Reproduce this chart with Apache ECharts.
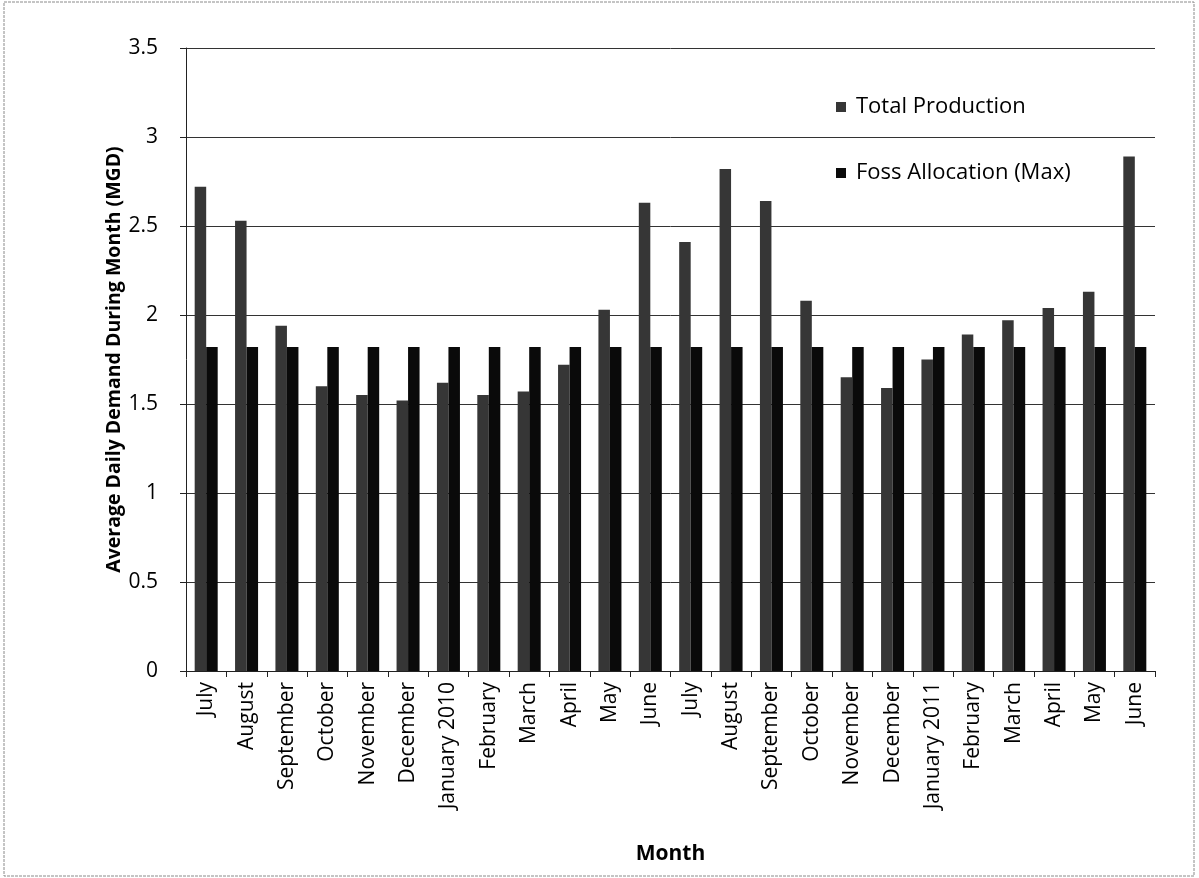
<!DOCTYPE html>
<html>
<head>
<meta charset="utf-8">
<script src="https://cdn.jsdelivr.net/npm/echarts@6/dist/echarts.min.js"></script>
<style>
  html, body { margin: 0; padding: 0; background: #fff; }
  #chart { width: 1199px; height: 878px; }
</style>
</head>
<body>
<div id="chart"></div>
<script>
// Monthly average daily demand, July 2009 – June 2011
const months = [
  'July', 'August', 'September', 'October', 'November', 'December',
  'January 2010', 'February', 'March', 'April', 'May', 'June',
  'July', 'August', 'September', 'October', 'November', 'December',
  'January 2011', 'February', 'March', 'April', 'May', 'June'
];
const totalProduction = [
  2.72, 2.53, 1.94, 1.60, 1.55, 1.52, 1.62, 1.55, 1.57, 1.72, 2.03, 2.63,
  2.41, 2.82, 2.64, 2.08, 1.65, 1.59, 1.75, 1.89, 1.97, 2.04, 2.13, 2.89
];
const fossAllocation = [
  1.82, 1.82, 1.82, 1.82, 1.82, 1.82, 1.82, 1.82, 1.82, 1.82, 1.82, 1.82,
  1.82, 1.82, 1.82, 1.82, 1.82, 1.82, 1.82, 1.82, 1.82, 1.82, 1.82, 1.82
];
const seriesNames = ['Total Production', 'Foss Allocation (Max)'];

const FONT = '"Open Sans", "Noto Sans", sans-serif';
const chart = echarts.init(document.getElementById('chart'), null, { renderer: 'canvas' });

chart.setOption({
  backgroundColor: '#fff',
  animation: false,
  graphic: [{
    type: 'rect',
    shape: { x: 4, y: 2, width: 1190, height: 874 },
    style: { fill: 'none', stroke: '#8a8a8a', lineWidth: 1, lineDash: [3, 1] },
    silent: true
  }],
  grid: { left: 186, right: 44, top: 48, bottom: 207 },
  legend: {
    orient: 'vertical',
    left: 831,
    top: 91,
    itemWidth: 10,
    itemHeight: 10,
    itemGap: 44,
    icon: 'rect',
    textStyle: { fontFamily: FONT, fontSize: 22, color: '#000', padding: [0, 0, 0, 5] },
    data: seriesNames
  },
  xAxis: {
    type: 'category',
    data: months,
    name: 'Month',
    nameLocation: 'middle',
    nameGap: 173,
    nameTextStyle: { fontFamily: FONT, fontSize: 21, fontWeight: 'bold', color: '#000' },
    axisLine: { show: true, lineStyle: { color: '#222', width: 1 } },
    axisTick: { show: true, length: 6, lineStyle: { color: '#222' } },
    axisLabel: {
      rotate: 90, interval: 0, margin: 11,
      fontFamily: FONT, fontSize: 21, color: '#000'
    },
    splitLine: { show: false }
  },
  yAxis: {
    type: 'value',
    min: 0, max: 3.5, interval: 0.5,
    name: 'Average Daily Demand During Month (MGD)',
    nameLocation: 'middle',
    nameGap: 62,
    nameMoveOverlap: false,
    nameTextStyle: { fontFamily: FONT, fontSize: 19.5, fontWeight: 'bold', color: '#000' },
    axisLine: { show: true, lineStyle: { color: '#222', width: 1 } },
    axisTick: { show: true, length: 6, lineStyle: { color: '#222' } },
    axisLabel: { margin: 28, fontFamily: FONT, fontSize: 21, color: '#000' },
    splitLine: { show: true, lineStyle: { color: '#333', width: 1 } }
  },
  series: [
    {
      name: seriesNames[0],
      type: 'bar',
      data: totalProduction,
      barGap: '0%',
      barCategoryGap: '43%',
      itemStyle: { color: '#363636' }
    },
    {
      name: seriesNames[1],
      type: 'bar',
      data: fossAllocation,
      itemStyle: { color: '#0a0a0a' }
    }
  ]
});
</script>
</body>
</html>
